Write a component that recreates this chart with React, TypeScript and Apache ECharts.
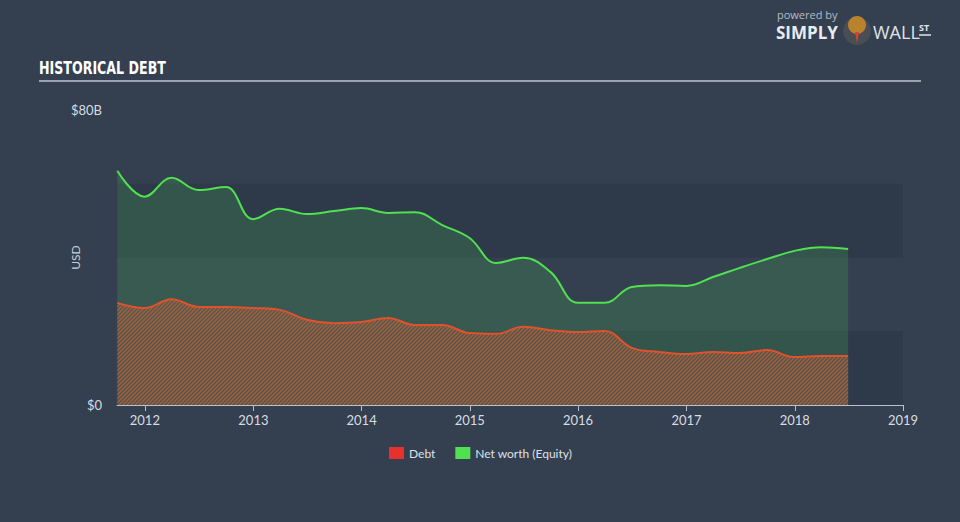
import React, { useEffect, useRef } from 'react';
import * as echarts from 'echarts';

const dates = [
  '2011-09-30', '2011-12-31', '2012-03-31', '2012-06-30', '2012-09-30', '2012-12-31',
  '2013-03-31', '2013-06-30', '2013-09-30', '2013-12-31', '2014-03-31', '2014-06-30',
  '2014-09-30', '2014-12-31', '2015-03-31', '2015-06-30', '2015-09-30', '2015-12-31',
  '2016-03-31', '2016-06-30', '2016-09-30', '2016-12-31', '2017-03-31', '2017-06-30',
  '2017-09-30', '2017-12-31', '2018-03-31', '2018-06-30',
];
const equity = [
  63.5, 56.5, 61.6, 58.3, 59.1, 50.4,
  53.2, 51.8, 52.6, 53.4, 52.1, 52.3,
  48.8, 45.3, 38.5, 39.9, 36.1, 27.7,
  27.7, 32.0, 32.5, 32.3, 34.7, 37.2,
  39.6, 41.8, 42.8, 42.3,
];
const debt = [
  27.7, 26.3, 28.7, 26.6, 26.6, 26.3,
  25.8, 23.1, 22.2, 22.5, 23.6, 21.7,
  21.7, 19.5, 19.3, 21.2, 20.3, 19.8,
  20.1, 15.5, 14.4, 13.8, 14.4, 14.1,
  14.9, 13.0, 13.3, 13.3,
];
const seriesNames = ['Debt', 'Net worth (Equity)'];
const yTickLabels: Record<number, string> = { 0: '$0', 80: '$80B' };

function makeHatch(): HTMLCanvasElement {
  const c = document.createElement('canvas');
  c.width = 4;
  c.height = 4;
  const ctx = c.getContext('2d')!;
  ctx.fillStyle = 'rgba(110,100,80,0.35)';
  ctx.fillRect(0, 0, 4, 4);
  ctx.strokeStyle = 'rgba(205,90,52,0.8)';
  ctx.lineWidth = 1.3;
  ctx.beginPath();
  ctx.moveTo(-1, 5); ctx.lineTo(5, -1);
  ctx.moveTo(-3, 3); ctx.lineTo(3, -3);
  ctx.moveTo(1, 7); ctx.lineTo(7, 1);
  ctx.stroke();
  return c;
}

export default function App() {
  const ref = useRef<HTMLDivElement>(null);
  useEffect(() => {
    if (!ref.current) return;
    const chart = echarts.init(ref.current, undefined, { renderer: 'svg' });
    const hatch = makeHatch();
    const toPairs = (vals: number[]) => dates.map((d, i) => [d, vals[i]]);
    chart.setOption({
      animation: false,
      backgroundColor: '#343f4f',
      textStyle: { fontFamily: 'Lato, "Open Sans", sans-serif' },
      grid: { left: 117, right: 57, top: 110, bottom: 117 },
      legend: {
        bottom: 58,
        left: 384,
        icon: 'rect',
        itemWidth: 15,
        itemHeight: 12,
        itemGap: 20,
        textStyle: { color: '#dde2e8', fontSize: 12 },
        data: [
          { name: seriesNames[0], itemStyle: { color: '#e8302c' } },
          { name: seriesNames[1], itemStyle: { color: '#50e050' } },
        ],
      },
      xAxis: {
        type: 'time',
        min: new Date(2011, 8, 29).getTime(),
        max: new Date(2019, 0, 1).getTime(),
        minInterval: 365 * 24 * 3600 * 1000,
        maxInterval: 366 * 24 * 3600 * 1000,
        axisLine: { show: true, lineStyle: { color: '#b9c2cc', width: 1 } },
        axisTick: { show: true, length: 6, lineStyle: { color: '#b9c2cc' } },
        axisLabel: { color: '#d8dde3', fontSize: 13, margin: 8, formatter: '{yyyy}', showMaxLabel: true },
        splitLine: { show: false },
      },
      yAxis: {
        type: 'value',
        min: 0,
        max: 80,
        interval: 20,
        name: 'USD',
        nameLocation: 'middle',
        nameGap: 42,
        nameMoveOverlap: false,
        nameRotate: 90,
        nameTextStyle: { color: '#c9d0d8', fontSize: 12, verticalAlign: 'middle' },
        axisLine: { show: false },
        axisTick: { show: false },
        axisLabel: {
          color: '#d8dde3',
          fontSize: 13,
          margin: 15,
          formatter: (v: number) => yTickLabels[v] ?? '',
        },
        splitLine: { show: false },
        splitArea: { show: true, areaStyle: { color: ['#2e3949', 'rgba(0,0,0,0)'] } },
      },
      series: [
        {
          name: seriesNames[1],
          type: 'line',
          data: toPairs(equity),
          smooth: 0.4,
          showSymbol: false,
          lineStyle: { color: '#50e050', width: 2 },
          itemStyle: { color: '#50e050' },
          areaStyle: { color: 'rgba(72,195,92,0.3)' },
          z: 2,
        },
        {
          name: seriesNames[0],
          type: 'line',
          data: toPairs(debt),
          smooth: 0.4,
          showSymbol: false,
          lineStyle: { color: '#e0522c', width: 2 },
          itemStyle: { color: '#e8302c' },
          areaStyle: { color: { image: hatch, repeat: 'repeat', imageWidth: 4, imageHeight: 4 }, opacity: 1 },
          z: 3,
        },
      ],
      graphic: [
        {
          type: 'text',
          left: 39,
          top: 59,
          scaleX: 0.78,
          style: {
            text: 'HISTORICAL DEBT',
            fill: '#ffffff',
            font: 'bold 18px "Liberation Sans Narrow", "DejaVu Sans Condensed", sans-serif',
          },
        },
        {
          type: 'line',
          shape: { x1: 39, y1: 81, x2: 921, y2: 81 },
          style: { stroke: '#9ba4ae', lineWidth: 2 },
        },
        {
          type: 'text',
          left: 777,
          top: 9,
          style: { text: 'powered by', fill: '#b4bcc6', font: '11px "Open Sans", sans-serif', lineHeight: 11 },
        },
        {
          type: 'text',
          left: 776,
          top: 24,
          style: { text: 'SIMPLY', fill: '#e8ecf0', font: 'bold 17px "Open Sans", sans-serif', lineHeight: 16 },
        },
        {
          type: 'circle',
          shape: { cx: 857, cy: 31, r: 14 },
          style: { fill: '#4a4d53' },
        },
        {
          type: 'circle',
          shape: { cx: 857, cy: 25, r: 9 },
          style: { fill: '#b8822e' },
        },
        {
          type: 'polygon',
          shape: { points: [[855, 32], [859, 32], [857, 43]] },
          style: { fill: '#d8442a' },
        },
        {
          type: 'text',
          left: 873,
          top: 23,
          style: { text: 'WALL', fill: '#e0e4e8', font: '18px "Open Sans", sans-serif' },
        },
        {
          type: 'text',
          left: 919,
          top: 23,
          style: { text: 'ST', fill: '#e0e4e8', font: 'bold 9px "Open Sans", sans-serif' },
        },
        {
          type: 'line',
          shape: { x1: 919, y1: 35, x2: 931, y2: 35 },
          style: { stroke: '#e0e4e8', lineWidth: 1.5 },
        },
      ],
    });
    return () => chart.dispose();
  }, []);
  return (
    <div
      ref={ref}
      style={{ position: 'fixed', left: 0, top: 0, width: 960, height: 522 }}
    />
  );
}
